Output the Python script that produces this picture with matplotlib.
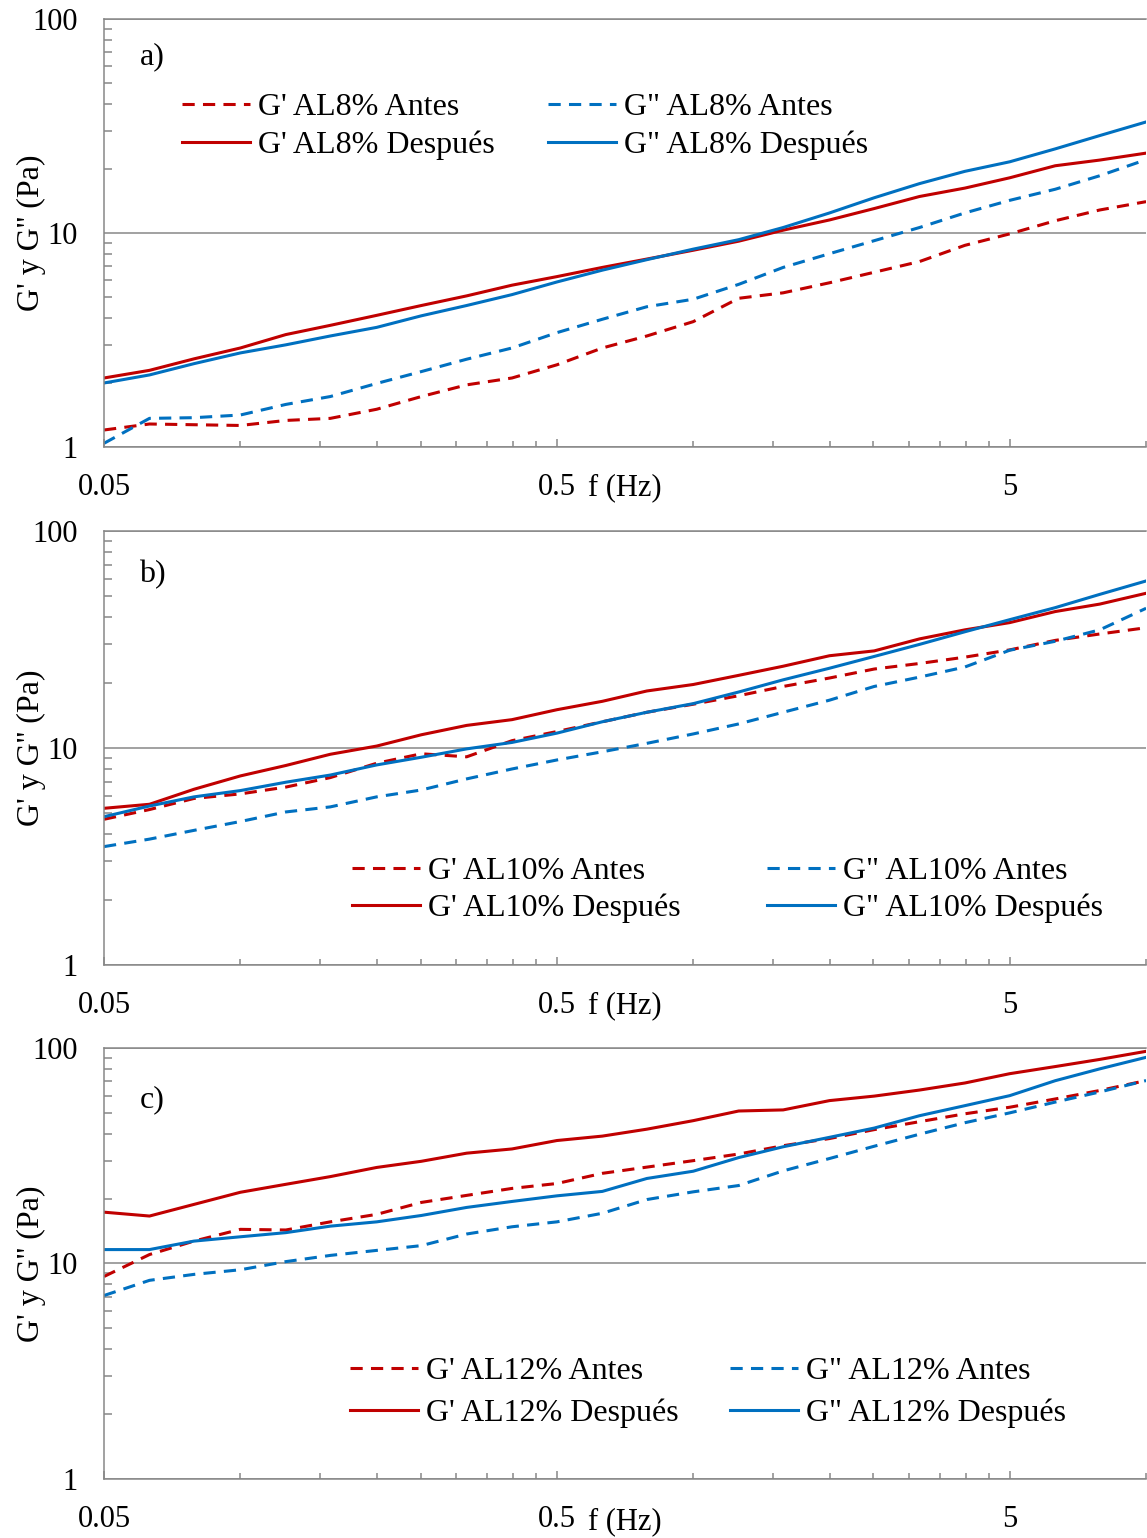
import numpy as np
import matplotlib
matplotlib.use('Agg')
import matplotlib.pyplot as plt
from matplotlib.ticker import FixedLocator, FixedFormatter, LogLocator, NullFormatter

plt.rcParams['font.family'] = ['Liberation Serif', 'DejaVu Serif']

# frequency (Hz)
freq = [0.05, 0.063, 0.079, 0.1, 0.126, 0.158, 0.2, 0.251, 0.316, 0.398, 0.5, 0.63,
        0.79, 1.0, 1.26, 1.58, 2.0, 2.51, 3.16, 3.98, 5.0, 6.3, 7.9, 10.0]

# a) AL8%
g1_a8 = [1.20, 1.28, 1.27, 1.26, 1.33, 1.36, 1.50, 1.72, 1.95, 2.10, 2.42, 2.90,
         3.30, 3.85, 4.95, 5.25, 5.85, 6.55, 7.35, 8.75, 9.90, 11.4, 12.8, 14.0]
g1_d8 = [2.10, 2.28, 2.58, 2.90, 3.35, 3.70, 4.12, 4.58, 5.08, 5.70, 6.25, 6.90,
         7.55, 8.30, 9.15, 10.3, 11.5, 13.0, 14.8, 16.2, 18.1, 20.6, 21.9, 23.6]
g2_a8 = [1.04, 1.36, 1.37, 1.41, 1.58, 1.72, 1.98, 2.25, 2.57, 2.90, 3.42, 3.95,
         4.52, 4.90, 5.75, 6.90, 8.00, 9.20, 10.6, 12.4, 14.2, 16.0, 18.5, 22.0]
g2_d8 = [1.99, 2.17, 2.45, 2.75, 3.00, 3.30, 3.62, 4.10, 4.58, 5.15, 5.90, 6.70,
         7.50, 8.40, 9.30, 10.6, 12.4, 14.6, 17.0, 19.4, 21.5, 24.7, 28.5, 33.0]

# b) AL10%
g1_a10 = [4.69, 5.20, 5.85, 6.14, 6.60, 7.30, 8.50, 9.40, 9.10, 10.8, 11.9, 13.2,
          14.6, 15.9, 17.4, 19.2, 21.0, 23.1, 24.5, 26.2, 28.3, 31.3, 33.5, 35.8]
g1_d10 = [5.27, 5.50, 6.45, 7.43, 8.30, 9.35, 10.2, 11.5, 12.7, 13.5, 15.0, 16.4,
          18.3, 19.6, 21.6, 23.8, 26.6, 28.0, 31.8, 35.0, 37.8, 42.5, 46.0, 51.6]
g2_a10 = [3.51, 3.80, 4.17, 4.58, 5.07, 5.35, 5.95, 6.40, 7.20, 8.00, 8.80, 9.60,
          10.5, 11.6, 12.9, 14.6, 16.6, 19.2, 21.2, 23.6, 28.2, 31.0, 35.0, 44.0]
g2_d10 = [4.82, 5.40, 5.95, 6.36, 6.95, 7.50, 8.35, 9.06, 9.90, 10.6, 11.7, 13.2,
          14.6, 16.0, 18.1, 20.6, 23.3, 26.4, 30.0, 34.3, 39.0, 44.3, 51.0, 58.8]

# c) AL12%
g1_a12 = [8.70, 11.0, 12.7, 14.4, 14.3, 15.6, 16.9, 19.2, 20.7, 22.3, 23.5, 26.2,
          28.0, 30.0, 32.2, 35.2, 38.0, 41.8, 45.5, 49.5, 53.1, 58.0, 63.5, 70.6]
g1_d12 = [17.3, 16.6, 18.8, 21.4, 23.3, 25.3, 27.9, 29.8, 32.5, 34.0, 37.2, 39.0,
          42.0, 46.0, 51.0, 51.6, 57.0, 59.8, 63.8, 68.8, 76.0, 82.0, 88.5, 96.5]
g2_a12 = [7.10, 8.35, 8.90, 9.35, 10.2, 10.9, 11.5, 12.1, 13.7, 14.8, 15.6, 17.1,
          19.8, 21.5, 23.0, 26.9, 30.7, 35.0, 39.8, 45.0, 50.0, 56.1, 62.5, 70.6]
g2_d12 = [11.6, 11.6, 12.7, 13.3, 13.9, 14.9, 15.6, 16.7, 18.2, 19.4, 20.6, 21.6,
          24.8, 26.8, 31.0, 34.8, 38.5, 42.5, 48.5, 54.0, 60.1, 70.5, 80.0, 90.5]

x_major = [0.05, 0.5, 5]
x_major_lbl = ['0.05', '0.5', '5']
x_minor = [0.1, 0.15, 0.2, 0.25, 0.3, 0.35, 0.4, 0.45,
           1.0, 1.5, 2.0, 2.5, 3.0, 3.5, 4.0, 4.5, 10.0]

RED = '#C00000'
BLUE = '#0070C0'
GRAY = '#878787'

panels = [
    ('a)', 'AL8%', g1_a8, g1_d8, g2_a8, g2_d8),
    ('b)', 'AL10%', g1_a10, g1_d10, g2_a10, g2_d10),
    ('c)', 'AL12%', g1_a12, g1_d12, g2_a12, g2_d12),
]
# axes rects [left, bottom, width, height]
rects = [[0.0907, 0.7094, 0.9085, 0.2783],
         [0.0907, 0.3726, 0.9085, 0.2822],
         [0.0907, 0.0384, 0.9085, 0.2802]]
# legend anchor, column spacing, label spacing, letter y, f(Hz) offset
leg_opts = [((0.075, 0.828), 1.66, 0.26, 0.911, -29),
            ((0.238, 0.250), 2.70, 0.24, 0.899, -29),
            ((0.236, 0.284), 1.60, 0.40, 0.879, -31)]

fig = plt.figure(figsize=(11.47, 15.38), dpi=100)

for (letter, name, ga, gd, g2a, g2d), rect, (anchor, cs, ls, ly, fy) in zip(panels, rects, leg_opts):
    ax = fig.add_axes(rect)
    dash = dict(lw=2.2, ls=(0, (4, 2.7)))
    ax.plot(freq, ga, color=RED, label="G' " + name + ' Antes', **dash)
    ax.plot(freq, gd, color=RED, lw=2.2, label="G' " + name + ' Después')
    ax.plot(freq, g2a, color=BLUE, label='G" ' + name + ' Antes', **dash)
    ax.plot(freq, g2d, color=BLUE, lw=2.2, label='G" ' + name + ' Después')

    ax.set_xscale('log')
    ax.set_yscale('log')
    ax.set_xlim(0.05, 10)
    ax.set_ylim(1, 100)

    ax.xaxis.set_major_locator(FixedLocator(x_major))
    ax.xaxis.set_major_formatter(FixedFormatter(x_major_lbl))
    ax.xaxis.set_minor_locator(FixedLocator(x_minor))
    ax.xaxis.set_minor_formatter(NullFormatter())
    ax.yaxis.set_major_locator(FixedLocator([1, 10, 100]))
    ax.yaxis.set_major_formatter(FixedFormatter(['1', '10', '100']))
    ax.yaxis.set_minor_locator(LogLocator(base=10, subs=np.arange(2, 10)))
    ax.yaxis.set_minor_formatter(NullFormatter())

    ax.tick_params(axis='x', which='major', direction='in', length=6, width=1.1,
                   color=GRAY, labelsize=22, pad=18.5)
    ax.tick_params(axis='x', which='minor', direction='in', length=4.5, width=1.1, color=GRAY)
    ax.tick_params(axis='y', which='major', direction='in', length=0, labelsize=22, pad=19)
    ax.tick_params(axis='y', which='minor', direction='in', length=5.5, width=1.1, color=GRAY)

    ax.grid(axis='y', which='major', color=GRAY, lw=1.1)
    for s in ['left', 'bottom', 'top']:
        ax.spines[s].set_color(GRAY)
        ax.spines[s].set_linewidth(1.1)
    ax.spines['right'].set_visible(False)

    ax.set_ylabel("G' y G'' (Pa)", fontsize=23)
    ax.yaxis.set_label_coords(-0.056, 0.5)

    ax.annotate('f (Hz)', xy=(0.4645, 0), xycoords='axes fraction',
                xytext=(0, fy), textcoords='offset points',
                ha='left', va='center', fontsize=22)
    ax.text(0.046, ly, letter, transform=ax.transAxes, fontsize=23,
            ha='center', va='center')

    # legend order: G' Antes, G' Después | G" Antes, G" Después
    ax.legend(loc='upper left', bbox_to_anchor=anchor, ncol=2, frameon=False,
              fontsize=23, borderpad=0, borderaxespad=0, handlelength=2.13,
              handletextpad=0.25, columnspacing=cs, labelspacing=ls)

fig.savefig('out.png', dpi=100)
